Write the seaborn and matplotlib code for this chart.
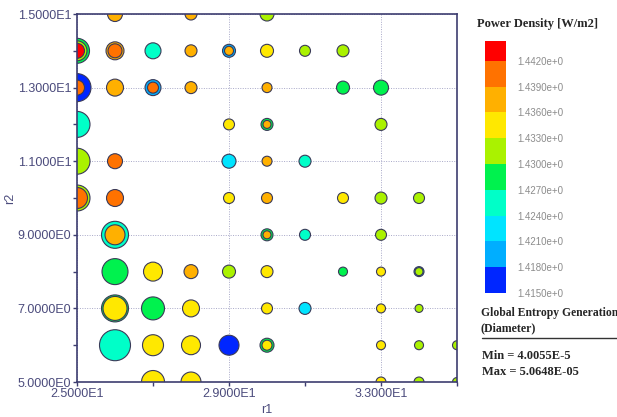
import numpy as np
import pandas as pd
import seaborn as sns
import matplotlib
matplotlib.use("Agg")
import matplotlib.pyplot as plt
from matplotlib.colors import ListedColormap, BoundaryNorm
from matplotlib.cm import ScalarMappable
from matplotlib.ticker import FuncFormatter, FixedLocator

# design points (several designs can share one r1/r2 location)
r1_vals = [26, 28, 30,
           25, 25, 25, 26, 26, 27, 28, 29, 29, 30, 31, 32,
           25, 25, 26, 27, 27, 28, 30, 32, 33,
           25, 29, 30, 30, 33,
           25, 26, 29, 30, 31,
           25, 25, 26, 29, 30, 32, 33, 34,
           26, 26, 30, 30, 31, 33,
           26, 27, 28, 29, 30, 32, 33, 34, 34,
           26, 26, 27, 28, 30, 31, 33, 34,
           26, 27, 28, 29, 30, 30, 33, 34, 35,
           27, 28, 33, 34, 35]
r2_vals = [15, 15, 15,
           14, 14, 14, 14, 14, 14, 14, 14, 14, 14, 14, 14,
           13, 13, 13, 13, 13, 13, 13, 13, 13,
           12, 12, 12, 12, 12,
           11, 11, 11, 11, 11,
           10, 10, 10, 10, 10, 10, 10, 10,
           9, 9, 9, 9, 9, 9,
           8, 8, 8, 8, 8, 8, 8, 8, 8,
           7, 7, 7, 7, 7, 7, 7, 7,
           6, 6, 6, 6, 6, 6, 6, 6, 6,
           5, 5, 5, 5, 5]
power_density = [1.4372, 1.4378, 1.4316,
                 1.4283, 1.4318, 1.4431, 1.4371, 1.4402, 1.4256, 1.4377, 1.4193, 1.4381, 1.4347, 1.4312, 1.4309,
                 1.4163, 1.4405, 1.4376, 1.4196, 1.4408, 1.4374, 1.4379, 1.4284, 1.4281,
                 1.4252, 1.4342, 1.4287, 1.4383, 1.4314,
                 1.4317, 1.4412, 1.4224, 1.4385, 1.4257,
                 1.4313, 1.4404, 1.4409, 1.4344, 1.4382, 1.4348, 1.4311, 1.4319,
                 1.4254, 1.4376, 1.4286, 1.4384, 1.4253, 1.4312,
                 1.4288, 1.4346, 1.4373, 1.4315, 1.4343, 1.4282, 1.4341, 1.4197, 1.4318,
                 1.4286, 1.4345, 1.4284, 1.4347, 1.4342, 1.4223, 1.4344, 1.4316,
                 1.4255, 1.4346, 1.4343, 1.4162, 1.4285, 1.4348, 1.4341, 1.4313, 1.4317,
                 1.4345, 1.4344, 1.4342, 1.4314, 1.4316]
entropy_gen = [4.196, 4.100, 4.161,
               4.668, 4.402, 4.196, 4.312, 4.161, 4.232, 4.100, 4.130, 4.026, 4.130, 4.073, 4.100,
               4.856, 4.196, 4.271, 4.232, 4.073, 4.100, 4.048, 4.130, 4.196,
               4.728, 4.073, 4.100, 4.0055, 4.100,
               4.728, 4.196, 4.161, 4.048, 4.100,
               4.728, 4.451, 4.271, 4.073, 4.073, 4.073, 4.100, 4.073,
               4.791, 4.402, 4.100, 4.006, 4.073, 4.073,
               4.728, 4.356, 4.161, 4.130, 4.100, 4.026, 4.026, 4.048, 4.006,
               4.791, 4.610, 4.555, 4.271, 4.073, 4.100, 4.026, 4.006,
               5.0648, 4.451, 4.356, 4.402, 4.161, 4.048, 4.026, 4.026, 4.026,
               4.555, 4.402, 4.048, 4.048, 4.026]

x_major = [25, 29, 33]
x_minor = [27, 31, 35]
y_major = [5, 7, 9, 11, 13, 15]
y_minor = [6, 8, 10, 12, 14]

pd_bounds = [1.415, 1.418, 1.421, 1.424, 1.427, 1.430, 1.433, 1.436, 1.439, 1.442, 1.4443]
pd_ticks = [1.415, 1.418, 1.421, 1.424, 1.427, 1.430, 1.433, 1.436, 1.439, 1.442]
band_colors = ["#0026FF", "#00AEFF", "#00E4FF", "#00FFC8", "#00F24E",
               "#AAF200", "#FFE800", "#FFB000", "#FF7200", "#FF0000"]
ent_min, ent_max = 4.0055, 5.0648

df = pd.DataFrame({"r1": r1_vals, "r2": r2_vals, "pd": power_density, "ent": entropy_gen})
df = df.sort_values("ent", ascending=False)  # big circles underneath

sns.set_style("white")
plt.rcParams["font.family"] = ["Liberation Sans", "DejaVu Sans"]

navy = "#3d3d70"
cmap = ListedColormap(band_colors)
norm = BoundaryNorm(pd_bounds, cmap.N)

fig = plt.figure(figsize=(6.17, 4.17), dpi=100)
ax = fig.add_axes([0.1248, 0.0839, 0.6159, 0.8825])

sns.scatterplot(data=df, x="r1", y="r2", hue="pd", size="ent",
                palette=cmap, hue_norm=norm,
                sizes=(33, 498), size_norm=(ent_min, ent_max),
                edgecolor="#3a3a58", linewidth=0.8, legend=False, ax=ax)

ax.set_xlim(25, 35)
ax.set_ylim(5, 15)
ax.xaxis.set_major_locator(FixedLocator(x_major))
ax.xaxis.set_minor_locator(FixedLocator(x_minor))
ax.yaxis.set_major_locator(FixedLocator(y_major))
ax.yaxis.set_minor_locator(FixedLocator(y_minor))


def sci_fmt(v, pos):
    e = int(np.floor(np.log10(abs(v))))
    return f"{v / 10**e:.4f}E{e}"


ax.xaxis.set_major_formatter(FuncFormatter(sci_fmt))
ax.yaxis.set_major_formatter(FuncFormatter(sci_fmt))
ax.tick_params(which="both", direction="out", length=3, width=1, color=navy,
               labelcolor="#4b4b7c", labelsize=9, pad=1, bottom=True, left=True)
ax.grid(True, which="major", linestyle=(0, (1, 1.5)), color="#a8a8c8", linewidth=0.7)
ax.set_axisbelow(True)
for sp in ax.spines.values():
    sp.set_color(navy)
    sp.set_linewidth(1.2)
ax.set_xlabel("r1", color="#4b4b7c", fontsize=9, labelpad=3)
ax.set_ylabel("r2", color="#4b4b7c", fontsize=9, labelpad=1)

# colour legend
cax = fig.add_axes([0.786, 0.2974, 0.034, 0.6043])
cb = fig.colorbar(ScalarMappable(norm=norm, cmap=cmap), cax=cax,
                  boundaries=pd_bounds, ticks=pd_ticks, spacing="proportional")
cb.outline.set_visible(False)
cb.ax.minorticks_off()
cb.ax.set_yticklabels([f"{t:.4f}e+0" for t in pd_ticks])
cb.ax.tick_params(which="both", length=0, pad=8, labelsize=7, labelcolor="#8c8c8c")

serif = ["Liberation Serif", "DejaVu Serif"]
fig.text(0.773, 0.942, "Power Density [W/m2]", fontsize=9, fontweight="bold",
         family=serif, ha="left", va="center")
fig.text(0.779, 1 - 313 / 417, "Global Entropy Generation", fontsize=8.4,
         fontweight="bold", family=serif, ha="left", va="center")
fig.text(0.779, 1 - 328 / 417, "(Diameter)", fontsize=8.6, fontweight="bold",
         family=serif, ha="left", va="center")
fig.add_artist(plt.Line2D([0.781, 1.0], [1 - 338 / 417, 1 - 338 / 417],
                          color="#333333", linewidth=1))
fig.text(0.781, 1 - 356 / 417, f"Min = {ent_min:.4f}E-5", fontsize=9,
         fontweight="bold", family=serif, ha="left", va="center")
fig.text(0.781, 1 - 372 / 417, f"Max = {ent_max:.4f}E-05", fontsize=9,
         fontweight="bold", family=serif, ha="left", va="center")

fig.savefig("out.png", dpi=100)
